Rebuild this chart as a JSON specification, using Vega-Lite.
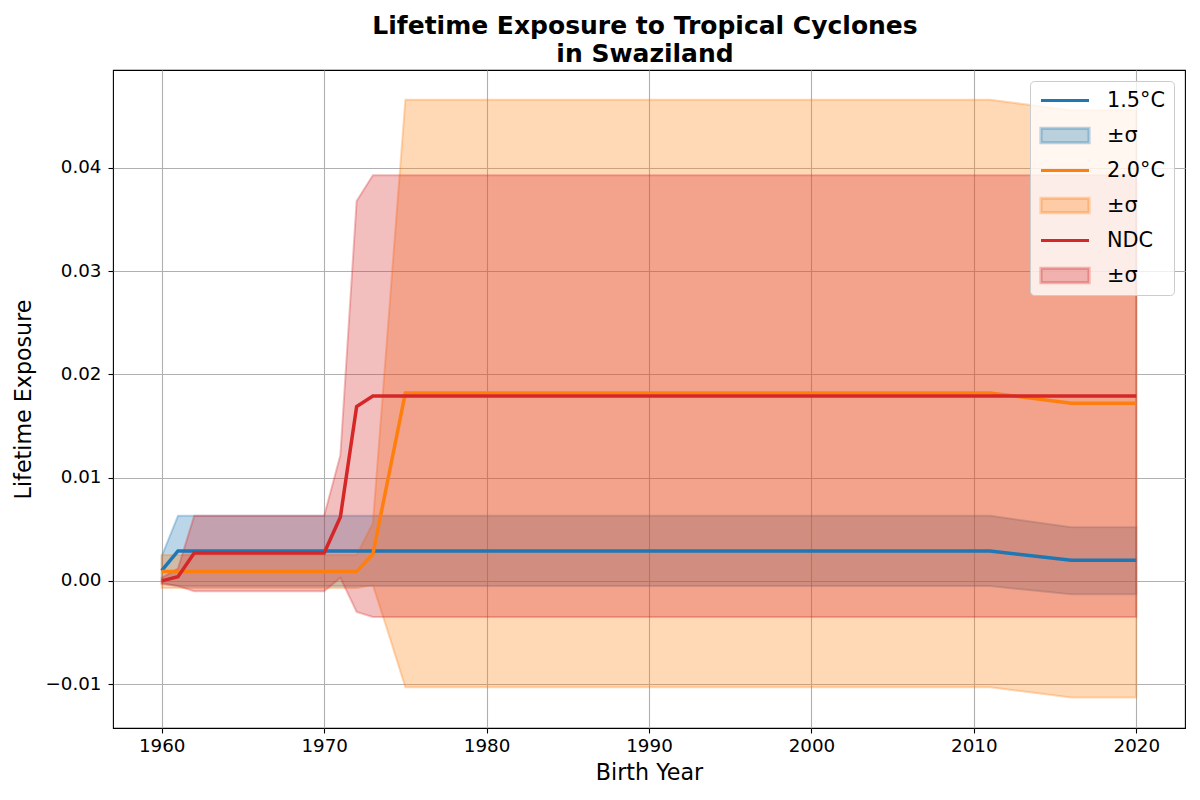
{
  "$schema": "https://vega.github.io/schema/vega-lite/v6.json",
  "width": 1072,
  "height": 658,
  "autosize": {"type": "none"},
  "padding": {"left": 113, "top": 70, "right": 15, "bottom": 72},
  "background": "white",
  "title": {
    "text": ["Lifetime Exposure to Tropical Cyclones", "in Swaziland"],
    "fontSize": 25,
    "fontWeight": "bold",
    "font": "DejaVu Sans",
    "color": "black",
    "lineHeight": 28,
    "offset": 3,
    "dx": -4,
    "anchor": "middle"
  },
  "config": {
    "font": "DejaVu Sans",
    "view": {"stroke": "black", "strokeWidth": 1.1},
    "axis": {
      "labelFont": "DejaVu Sans",
      "titleFont": "DejaVu Sans",
      "labelFontSize": 18.3,
      "titleFontSize": 22.2,
      "titleFontWeight": "normal",
      "labelColor": "black",
      "titleColor": "black",
      "tickColor": "black",
      "tickSize": 5,
      "tickWidth": 1.1,
      "domain": false,
      "grid": true,
      "gridColor": "#b0b0b0",
      "gridWidth": 1.1
    }
  },
  "datasets": {
    "lines": [
      {"year": 1960, "key": "l15", "v": 0.0010},
      {"year": 1961, "key": "l15", "v": 0.0029},
      {"year": 2011, "key": "l15", "v": 0.0029},
      {"year": 2016, "key": "l15", "v": 0.0020},
      {"year": 2020, "key": "l15", "v": 0.0020},
      {"year": 1960, "key": "l20", "v": 0.0009},
      {"year": 1972, "key": "l20", "v": 0.0009},
      {"year": 1973, "key": "l20", "v": 0.0026},
      {"year": 1974, "key": "l20", "v": 0.0104},
      {"year": 1975, "key": "l20", "v": 0.0182},
      {"year": 2011, "key": "l20", "v": 0.0182},
      {"year": 2016, "key": "l20", "v": 0.0172},
      {"year": 2020, "key": "l20", "v": 0.0172},
      {"year": 1960, "key": "lndc", "v": 0.0000},
      {"year": 1961, "key": "lndc", "v": 0.0004},
      {"year": 1962, "key": "lndc", "v": 0.0027},
      {"year": 1970, "key": "lndc", "v": 0.0027},
      {"year": 1971, "key": "lndc", "v": 0.0062},
      {"year": 1972, "key": "lndc", "v": 0.0169},
      {"year": 1973, "key": "lndc", "v": 0.0179},
      {"year": 2020, "key": "lndc", "v": 0.0179}
    ],
    "bands": [
      {"year": 1960, "key": "b15", "lo": -0.0002, "hi": 0.0024},
      {"year": 1961, "key": "b15", "lo": -0.0005, "hi": 0.0063},
      {"year": 2011, "key": "b15", "lo": -0.0005, "hi": 0.0063},
      {"year": 2016, "key": "b15", "lo": -0.0013, "hi": 0.0052},
      {"year": 2020, "key": "b15", "lo": -0.0013, "hi": 0.0052},
      {"year": 1960, "key": "b20", "lo": -0.0007, "hi": 0.0025},
      {"year": 1972, "key": "b20", "lo": -0.0007, "hi": 0.0025},
      {"year": 1973, "key": "b20", "lo": -0.0004, "hi": 0.0056},
      {"year": 1974, "key": "b20", "lo": -0.0053, "hi": 0.0261},
      {"year": 1975, "key": "b20", "lo": -0.0103, "hi": 0.0466},
      {"year": 2011, "key": "b20", "lo": -0.0103, "hi": 0.0466},
      {"year": 2016, "key": "b20", "lo": -0.0113, "hi": 0.0456},
      {"year": 2020, "key": "b20", "lo": -0.0113, "hi": 0.0456},
      {"year": 1960, "key": "bndc", "lo": -0.0003, "hi": 0.0003},
      {"year": 1961, "key": "bndc", "lo": -0.0005, "hi": 0.0012},
      {"year": 1962, "key": "bndc", "lo": -0.0010, "hi": 0.0063},
      {"year": 1970, "key": "bndc", "lo": -0.0010, "hi": 0.0063},
      {"year": 1971, "key": "bndc", "lo": 0.0003, "hi": 0.0122},
      {"year": 1972, "key": "bndc", "lo": -0.0030, "hi": 0.0368},
      {"year": 1973, "key": "bndc", "lo": -0.0035, "hi": 0.0393},
      {"year": 2020, "key": "bndc", "lo": -0.0035, "hi": 0.0393}
    ]
  },
  "layer": [
    {
      "data": {"name": "bands"},
      "transform": [{"filter": "datum.key == 'b15'"}],
      "mark": {"type": "area", "fill": "#1f77b4", "stroke": "#1f77b4", "fillOpacity": 0.3, "strokeOpacity": 0.3, "strokeWidth": 2},
      "encoding": {
        "x": {
          "field": "year", "type": "quantitative",
          "scale": {"domain": [1957, 2023], "nice": false, "zero": false},
          "axis": {"title": "Birth Year", "values": [1960, 1970, 1980, 1990, 2000, 2010, 2020], "format": "d", "labelPadding": 4, "titlePadding": 7}
        },
        "y": {
          "field": "lo", "type": "quantitative",
          "scale": {"domain": [-0.01425, 0.04949], "nice": false, "zero": false},
          "axis": {"title": "Lifetime Exposure", "values": [-0.01, 0, 0.01, 0.02, 0.03, 0.04], "format": ".2f", "labelPadding": 7, "titlePadding": 9}
        },
        "y2": {"field": "hi"}
      }
    },
    {
      "data": {"name": "bands"},
      "transform": [{"filter": "datum.key == 'b20'"}],
      "mark": {"type": "area", "fill": "#ff7f0e", "stroke": "#ff7f0e", "fillOpacity": 0.3, "strokeOpacity": 0.3, "strokeWidth": 2},
      "encoding": {
        "x": {"field": "year", "type": "quantitative", "title": "Birth Year"},
        "y": {"field": "lo", "type": "quantitative", "title": "Lifetime Exposure"},
        "y2": {"field": "hi"}
      }
    },
    {
      "data": {"name": "bands"},
      "transform": [{"filter": "datum.key == 'bndc'"}],
      "mark": {"type": "area", "fill": "#d62728", "stroke": "#d62728", "fillOpacity": 0.3, "strokeOpacity": 0.3, "strokeWidth": 2},
      "encoding": {
        "x": {"field": "year", "type": "quantitative", "title": "Birth Year"},
        "y": {"field": "lo", "type": "quantitative", "title": "Lifetime Exposure"},
        "y2": {"field": "hi"}
      }
    },
    {
      "data": {"name": "lines"},
      "mark": {"type": "line", "strokeWidth": 3.5},
      "encoding": {
        "x": {"field": "year", "type": "quantitative", "title": "Birth Year"},
        "y": {"field": "v", "type": "quantitative", "title": "Lifetime Exposure"},
        "color": {
          "field": "key", "type": "nominal",
          "scale": {"domain": ["l15", "l20", "lndc"], "range": ["#1f77b4", "#ff7f0e", "#d62728"]},
          "legend": null
        }
      }
    },
    {
      "data": {"name": "lines"},
      "transform": [{"filter": "false"}],
      "mark": {"type": "point", "filled": true, "opacity": 1},
      "encoding": {
        "fill": {
          "field": "key", "type": "nominal",
          "scale": {
            "domain": ["l15", "b15", "l20", "b20", "lndc", "bndc"],
            "range": ["transparent", "rgba(31,119,180,0.3)", "transparent", "rgba(255,127,14,0.3)", "transparent", "rgba(214,39,40,0.3)"]
          },
          "legend": {
            "title": null,
            "orient": "top-right",
            "offset": 11,
            "padding": 9,
            "cornerRadius": 4,
            "fillColor": "rgba(255,255,255,0.8)",
            "strokeColor": "#cccccc",
            "labelFont": "DejaVu Sans",
            "labelFontSize": 20.8,
            "labelColor": "black",
            "labelOffset": 16,
            "rowPadding": 13,
            "clipHeight": 21,
            "symbolSize": 2304,
            "symbolOpacity": 1,
            "symbolStrokeWidth": 3.2,
            "labelExpr": "datum.value == 'l15' ? '1.5°C' : datum.value == 'l20' ? '2.0°C' : datum.value == 'lndc' ? 'NDC' : '±σ'"
          }
        },
        "stroke": {
          "field": "key", "type": "nominal",
          "scale": {
            "domain": ["l15", "b15", "l20", "b20", "lndc", "bndc"],
            "range": ["#1f77b4", "rgba(31,119,180,0.3)", "#ff7f0e", "rgba(255,127,14,0.3)", "#d62728", "rgba(214,39,40,0.3)"]
          },
          "legend": {"title": null}
        },
        "shape": {
          "field": "key", "type": "nominal",
          "scale": {
            "domain": ["l15", "b15", "l20", "b20", "lndc", "bndc"],
            "range": ["stroke", "M-1,-0.3L1,-0.3L1,0.3L-1,0.3Z", "stroke", "M-1,-0.3L1,-0.3L1,0.3L-1,0.3Z", "stroke", "M-1,-0.3L1,-0.3L1,0.3L-1,0.3Z"]
          },
          "legend": {"title": null}
        }
      }
    }
  ]
}
